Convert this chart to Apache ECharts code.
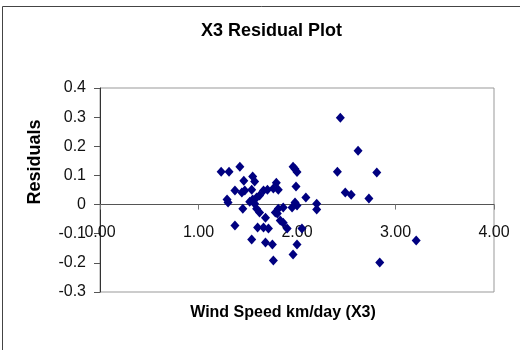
<!DOCTYPE html>
<html lang="en">

<head>
    <meta charset="utf-8">
    <title>X3 Residual Plot</title>
    <style>
        * {
            margin: 0;
            padding: 0;
        }

        #chart-container {
            width: 520px;
            height: 350px;
            overflow: hidden;
            background: #fff;
        }
    </style>
</head>

<body>
    <div id="chart-container"></div>
    <script src="https://cdn.jsdelivr.net/npm/echarts@6/dist/echarts.min.js"></script>
    <script>
        // wind speed (X3) and residual for each observation
        var windSpeed = [
            2.44, 2.62, 2.41, 2.81, 2.49, 2.55, 2.73, 3.21, 2.84,
            1.23, 1.31, 1.42, 1.46, 1.55, 1.57, 1.37, 1.44, 1.47, 1.54, 1.29,
            1.45, 1.70, 1.76, 1.79, 1.96, 1.98, 2.00, 1.99, 1.81, 2.09,
            1.98, 2.00, 2.20, 2.20, 1.66, 1.62, 1.59, 1.55, 1.57, 1.59,
            1.62, 1.68, 1.86, 1.81, 1.78, 1.80, 1.30, 1.37, 1.60, 1.66,
            1.71, 1.54, 1.68, 1.75, 1.76, 1.83, 1.86, 1.90, 1.96, 2.00,
            2.05, 1.95, 1.52
        ];
        var residuals = [
            0.298, 0.185, 0.113, 0.110, 0.041, 0.034, 0.021, -0.123, -0.199,
            0.113, 0.113, 0.130, 0.082, 0.096, 0.079, 0.048, 0.041, 0.048, 0.051, 0.017,
            -0.014, 0.051, 0.055, 0.075, 0.130, 0.122, 0.112, 0.062, 0.051, 0.024,
            0.007, -0.003, 0.003, -0.017, 0.048, 0.031, 0.024, 0.017, 0.003, -0.014,
            -0.027, -0.045, -0.010, -0.014, -0.027, -0.031, 0.007, -0.072, -0.079, -0.079,
            -0.082, -0.120, -0.130, -0.137, -0.192, -0.055, -0.062, -0.082, -0.171, -0.137,
            -0.082, -0.010, 0.010
        ];
        var xTicks = [0, 1, 2, 3, 4];
        var yTicks = [-0.3, -0.2, -0.1, 0, 0.1, 0.2, 0.3, 0.4];

        var points = windSpeed.map(function (x, i) {
            return [x, residuals[i]];
        });

        var font = '"Liberation Sans", Arial, sans-serif';

        var dom = document.getElementById('chart-container');
        var myChart = echarts.init(dom, null, { renderer: 'canvas' });

        // the x axis sits on the zero line, 3/7 of the plot height up from the bottom
        var plotTop = 88, plotBottom = 58, plotHeight = 350 - plotTop - plotBottom;
        var zeroOffset = -plotHeight * (0 - yTicks[0]) / (yTicks[yTicks.length - 1] - yTicks[0]);

        var option = {
            animation: false,
            title: {
                text: 'X3 Residual Plot',
                left: 196,
                top: 17,
                textStyle: {
                    fontFamily: font,
                    fontSize: 18,
                    fontWeight: 'bold',
                    color: '#000'
                }
            },
            grid: {
                left: 100,
                right: 26,
                top: plotTop,
                bottom: plotBottom,
                show: true,
                borderColor: '#999',
                borderWidth: 1
            },
            graphic: [
                {
                    type: 'rect',
                    shape: { x: 2.5, y: 6.5, width: 600, height: 400 },
                    style: { fill: 'none', stroke: '#444', lineWidth: 1 },
                    silent: true
                },
                {
                    type: 'text',
                    x: 35,
                    y: 162,
                    rotation: Math.PI / 2,
                    style: {
                        text: 'Residuals',
                        fontFamily: font,
                        fontSize: 18,
                        fontWeight: 'bold',
                        fill: '#000',
                        align: 'center',
                        verticalAlign: 'middle'
                    }
                },
                {
                    type: 'text',
                    x: 283,
                    y: 313,
                    style: {
                        text: 'Wind Speed km/day (X3)',
                        fontFamily: font,
                        fontSize: 16,
                        fontWeight: 'bold',
                        fill: '#000',
                        align: 'center',
                        verticalAlign: 'middle'
                    }
                }
            ],
            xAxis: {
                type: 'value',
                min: xTicks[0],
                max: xTicks[xTicks.length - 1],
                interval: 1,
                offset: zeroOffset,
                splitLine: { show: false },
                axisLine: { onZero: false, lineStyle: { color: '#555' } },
                axisTick: { length: 5, lineStyle: { color: '#777' } },
                axisLabel: {
                    margin: 20,
                    fontFamily: font,
                    fontSize: 16,
                    color: '#111',
                    formatter: function (v) { return v.toFixed(2); }
                }
            },
            yAxis: {
                type: 'value',
                min: yTicks[0],
                max: yTicks[yTicks.length - 1],
                interval: 0.1,
                splitLine: { show: false },
                axisLine: { show: true, onZero: false, lineStyle: { color: '#333' } },
                axisTick: { show: true, length: 6, lineStyle: { color: '#555' } },
                axisLabel: {
                    margin: 14,
                    fontFamily: font,
                    fontSize: 16,
                    color: '#111',
                    formatter: function (v) {
                        var r = Math.round(v * 10) / 10;
                        return r === 0 ? '0' : r.toFixed(1);
                    }
                }
            },
            series: [
                {
                    type: 'scatter',
                    symbol: 'diamond',
                    symbolSize: [9, 10],
                    itemStyle: { color: '#000080', opacity: 1 },
                    data: points
                }
            ]
        };

        myChart.setOption(option);
        window.addEventListener('resize', myChart.resize);
    </script>
</body>

</html>
